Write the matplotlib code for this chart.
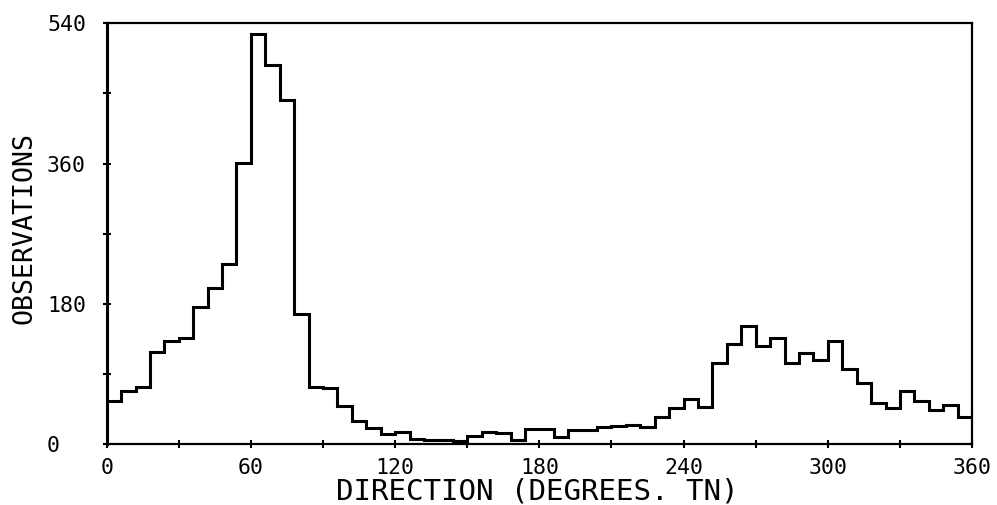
import numpy as np
import matplotlib
matplotlib.use("Agg")
import matplotlib.pyplot as plt

# Direction bin edges (degrees true north), 6-degree bins
bin_edges = list(range(0, 361, 6))

# Observation counts per bin
observations = [
    56, 69, 74, 118, 133, 136, 176, 200, 231, 361,
    526, 486, 442, 167, 73, 72, 49, 30, 21, 13,
    16, 7, 6, 6, 5, 11, 16, 14, 6, 20,
    20, 10, 18, 18, 22, 23, 25, 22, 35, 47,
    58, 48, 104, 129, 152, 126, 136, 104, 117, 108,
    132, 97, 79, 53, 47, 69, 56, 44, 50, 35,
]

x_major = [0, 60, 120, 180, 240, 300, 360]
x_minor = [30, 90, 150, 210, 270, 330]
y_major = [0, 180, 360, 540]
y_minor = [90, 270, 450]

xlabel = "DIRECTION (DEGREES. TN)"
ylabel = "OBSERVATIONS"

font = "DejaVu Sans Mono"

fig = plt.figure(figsize=(9.97, 5.05), dpi=100)
ax = fig.add_axes([0.107, 0.120, 0.868, 0.834])

ax.stairs(observations, bin_edges, baseline=None, color="black", linewidth=2.2)

ax.set_xlim(0, 360)
ax.set_ylim(0, 540)

ax.set_xticks(x_major)
ax.set_xticks(x_minor, minor=True)
ax.set_yticks(y_major)
ax.set_yticks(y_minor, minor=True)
ax.set_xticklabels([str(v) for v in x_major])
ax.set_yticklabels([str(v) for v in y_major])

ax.tick_params(axis="both", which="both", direction="inout", length=6, width=1.5, color="black")
ax.tick_params(axis="x", which="major", pad=6.5, labelsize=15.5)
ax.tick_params(axis="y", which="major", pad=40, labelsize=15.5)
for lab in ax.get_xticklabels() + ax.get_yticklabels():
    lab.set_fontfamily(font)
for lab in ax.get_yticklabels():
    lab.set_horizontalalignment("left")

for s in ax.spines.values():
    s.set_linewidth(1.6)
    s.set_color("black")
ax.spines["left"].set_linewidth(2.2)

ax.set_xlabel(xlabel, fontsize=21, fontfamily=font)
ax.set_ylabel(ylabel, fontsize=19.2, fontfamily=font)
ax.xaxis.label.set_verticalalignment("baseline")
ax.xaxis.set_label_coords(0.497, -0.131)
ax.yaxis.set_label_coords(-0.080, 0.514)

fig.savefig("out.png", dpi=100, facecolor="white")
